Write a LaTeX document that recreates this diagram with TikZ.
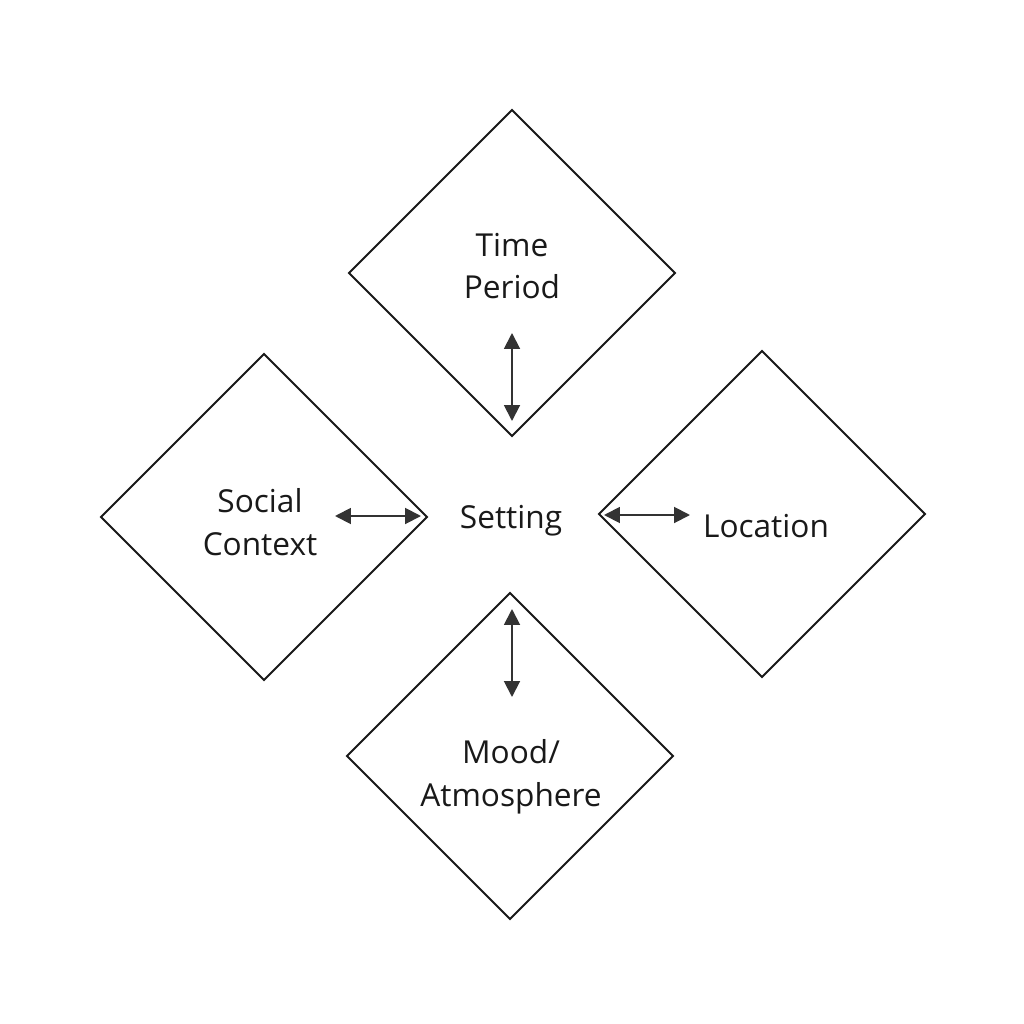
\documentclass[tikz,border=0pt]{standalone}
\usepackage{fontspec}
\setmainfont{Open Sans}
\usetikzlibrary{shapes.geometric,arrows.meta}
\begin{document}
\begin{tikzpicture}[x=0.02cm,y=-0.02cm,
  dia/.style={draw=black!90,line width=1.1pt,shape=diamond,aspect=1,inner sep=0pt,minimum width=6.54cm,minimum height=6.54cm},
  lbl/.style={font=\fontsize{18}{24.4}\selectfont,align=center,text=black!90},
  link/.style={draw=black!80,line width=1.1pt,{Triangle[length=9pt,width=9pt]}-{Triangle[length=9pt,width=9pt]}}]
\useasboundingbox[fill=white] (0,0) rectangle (1024,1024);
\node[dia] (dtop) at (512,273) {};
\node[dia] (dleft) at (264,517) {};
\node[dia] (dright) at (762,514) {};
\node[dia] (dbot) at (510,756) {};
\node[lbl] (ttime) at (512,266) {Time\\Period};
\node[lbl] (tsoc) at (260,522) {Social\\Context};
\node[lbl] (tloc) at (766,526) {Location};
\node[lbl] (tmood) at (511,777) {Mood/\\Atmosphere};
\node[lbl] (set) at (511,521) {Setting};
\coordinate (a1) at (512,333); \coordinate (a2) at (512,421);
\coordinate (b1) at (335,516); \coordinate (b2) at (421,516);
\coordinate (c1) at (604,515); \coordinate (c2) at (690,515);
\coordinate (d1) at (512,609); \coordinate (d2) at (512,697);
\draw[link] (a1) -- (a2);
\draw[link] (b1) -- (b2);
\draw[link] (c1) -- (c2);
\draw[link] (d1) -- (d2);
\end{tikzpicture}
\end{document}
